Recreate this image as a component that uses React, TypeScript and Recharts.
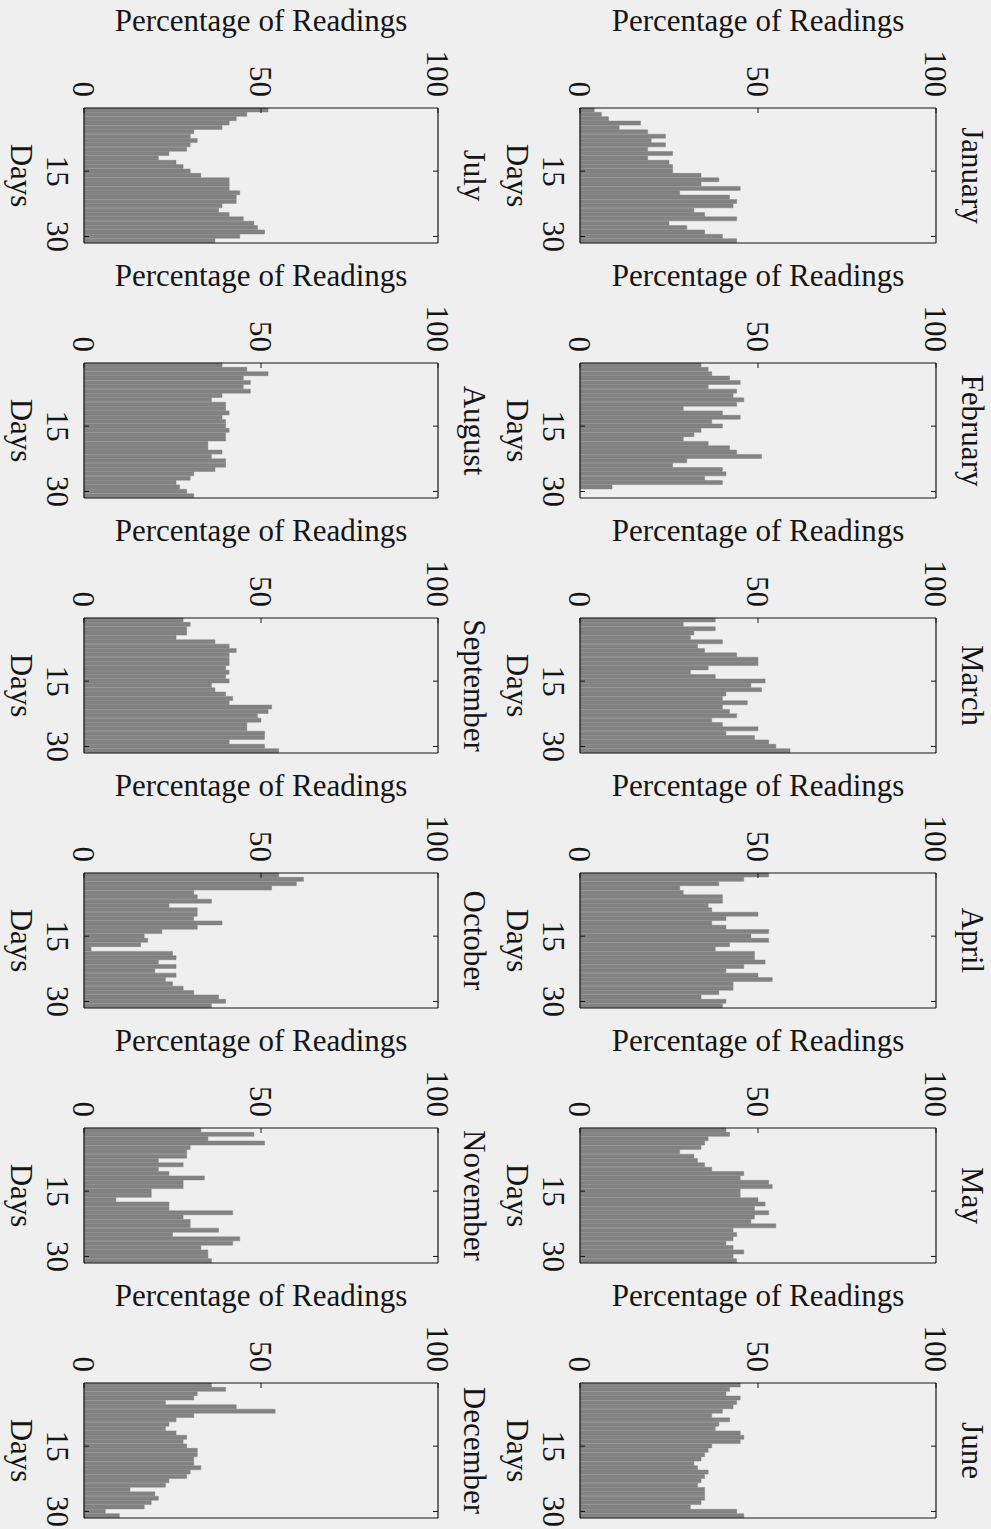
import React from "react";
import { BarChart, Bar, XAxis, YAxis } from "recharts";

const MONTHS = [
  "January", "February", "March", "April", "May", "June",
  "July", "August", "September", "October", "November", "December",
];

const DAYS = [
  1, 2, 3, 4, 5, 6, 7, 8, 9, 10, 11, 12, 13, 14, 15, 16,
  17, 18, 19, 20, 21, 22, 23, 24, 25, 26, 27, 28, 29, 30, 31,
];

const PCT_TICKS = [0, 50, 100];
const DAY_TICKS = [15, 30];

// percentage of readings per day
const january = [4, 6, 8, 17, 11, 19, 24, 20, 24, 19, 26, 19, 25, 26, 26, 34, 39, 34, 45, 28, 42, 44, 43, 32, 35, 44, 25, 30, 35, 40, 44];
const february = [34, 36, 37, 42, 45, 36, 44, 43, 46, 44, 29, 40, 45, 37, 40, 34, 32, 29, 36, 42, 44, 51, 30, 26, 40, 41, 35, 40, 9];
const march = [38, 29, 38, 32, 31, 40, 33, 35, 44, 50, 50, 36, 31, 38, 52, 48, 51, 41, 40, 47, 40, 42, 44, 37, 40, 50, 41, 49, 53, 55, 59];
const april = [53, 46, 39, 28, 29, 40, 40, 36, 37, 50, 41, 37, 41, 53, 48, 53, 42, 38, 49, 49, 52, 46, 41, 50, 54, 43, 43, 39, 34, 41, 40];
const may = [41, 42, 36, 35, 34, 28, 32, 33, 35, 37, 46, 45, 53, 54, 45, 45, 50, 52, 49, 53, 49, 48, 55, 43, 44, 43, 41, 43, 46, 43, 44];
const june = [45, 42, 41, 45, 44, 43, 40, 37, 42, 39, 38, 45, 46, 45, 37, 36, 35, 34, 32, 33, 36, 35, 34, 33, 35, 35, 35, 34, 31, 44, 46];
const july = [52, 46, 43, 41, 39, 31, 30, 32, 30, 29, 24, 21, 26, 28, 30, 33, 41, 41, 41, 44, 43, 43, 39, 38, 41, 45, 48, 49, 51, 44, 37];
const august = [39, 46, 52, 45, 47, 45, 47, 39, 36, 40, 40, 41, 39, 40, 40, 41, 40, 40, 35, 35, 39, 36, 40, 40, 37, 31, 30, 26, 27, 29, 31];
const september = [28, 30, 29, 29, 26, 37, 41, 43, 41, 41, 41, 40, 41, 40, 41, 36, 37, 40, 42, 41, 53, 52, 49, 50, 46, 46, 51, 51, 41, 51, 55];
const october = [55, 62, 60, 53, 31, 32, 36, 24, 32, 32, 31, 39, 32, 22, 17, 18, 16, 2, 25, 26, 21, 26, 20, 26, 23, 25, 28, 31, 38, 40, 36];
const november = [33, 48, 35, 51, 30, 29, 29, 21, 28, 21, 24, 34, 28, 28, 19, 19, 9, 24, 24, 42, 28, 30, 30, 38, 25, 44, 42, 33, 35, 35, 36];
const december = [36, 40, 32, 31, 23, 43, 54, 31, 26, 24, 23, 26, 29, 28, 29, 32, 32, 31, 31, 33, 30, 29, 24, 23, 13, 20, 21, 19, 17, 6, 10];

const SERIES = [
  january, february, march, april, may, june,
  july, august, september, october, november, december,
];

// panel geometry
const BOX_H = 135;
const ROW_STEP = 255;
const TOP0 = 108;
const COLS = [
  { left: 580, width: 356 },
  { left: 84, width: 354 },
];
const ML = 84;
const MT = 110;
const MR = 55;
const MB = 18;

const FONT = "'Liberation Serif', 'Times New Roman', serif";
const INK = "#151515";
const FS = 31;

const PctTick = ({ x, y, payload }: any) => (
  <g>
    <line x1={x} y1={y} x2={x} y2={y + 5} stroke={INK} strokeWidth={1} />
    <text
      x={x}
      y={y - 11}
      dy="0.34em"
      transform={`rotate(90 ${x} ${y - 11})`}
      textAnchor="end"
      fontFamily={FONT}
      fontSize={FS}
      fill={INK}
    >
      {payload.value}
    </text>
  </g>
);

const PctTickBottom = ({ x, y }: any) => (
  <line x1={x} y1={y} x2={x} y2={y - 5} stroke={INK} strokeWidth={1} />
);

const DayTick = ({ x, y, payload }: any) => (
  <g>
    <line x1={x} y1={y} x2={x + 5} y2={y} stroke={INK} strokeWidth={1} />
    <text
      x={x - 37}
      y={y}
      transform={`rotate(90 ${x - 37} ${y})`}
      textAnchor="middle"
      fontFamily={FONT}
      fontSize={FS}
      fill={INK}
    >
      {payload.value}
    </text>
  </g>
);

const DayTickRight = ({ x, y }: any) => (
  <line x1={x} y1={y} x2={x - 5} y2={y} stroke={INK} strokeWidth={1} />
);

const axisLine = { stroke: INK, strokeWidth: 1.2 };

const MonthPanel = ({ index }: { index: number }) => {
  const col = COLS[index < 6 ? 0 : 1];
  const row = index % 6;
  const values = SERIES[index];
  const rows = DAYS.map((d, i) => ({ day: d, value: i < values.length ? values[i] : null }));

  const w = ML + col.width + MR;
  const h = MT + BOX_H + MB;
  const boxTop = TOP0 + row * ROW_STEP;
  const midY = MT + BOX_H / 2;

  return (
    <div style={{ position: "absolute", left: col.left - ML, top: boxTop - MT, width: w, height: h }}>
      {/* axes are 1px thick, so the margins are trimmed by 1 to keep the box in place */}
      <BarChart
        width={w}
        height={h}
        data={rows}
        layout="vertical"
        margin={{ top: MT - 1, right: MR - 1, bottom: MB - 1, left: ML - 1 }}
        barCategoryGap={0}
        barGap={0}
      >
        <XAxis
          type="number"
          orientation="top"
          domain={[0, 100]}
          ticks={PCT_TICKS}
          height={1}
          tickSize={0}
          tickMargin={0}
          tickLine={false}
          axisLine={axisLine}
          tick={<PctTick />}
          interval={0}
        />
        <XAxis
          xAxisId="b"
          type="number"
          orientation="bottom"
          domain={[0, 100]}
          ticks={[50]}
          height={1}
          tickSize={0}
          tickMargin={0}
          tickLine={false}
          axisLine={axisLine}
          tick={<PctTickBottom />}
          interval={0}
        />
        <YAxis
          type="category"
          dataKey="day"
          width={1}
          ticks={DAY_TICKS}
          tickSize={0}
          tickMargin={0}
          tickLine={false}
          axisLine={axisLine}
          tick={<DayTick />}
          interval={0}
        />
        <YAxis
          yAxisId="r"
          type="category"
          dataKey="day"
          orientation="right"
          width={1}
          ticks={DAY_TICKS}
          tickSize={0}
          tickMargin={0}
          tickLine={false}
          axisLine={axisLine}
          tick={<DayTickRight />}
          interval={0}
        />
        <Bar
          dataKey="value"
          fill="#838383"
          stroke="#737373"
          strokeWidth={0.4}
          isAnimationActive={false}
        />
      </BarChart>
      <svg
        width={w}
        height={h}
        style={{ position: "absolute", left: 0, top: 0, pointerEvents: "none" }}
      >
        <text
          x={ML + col.width / 2}
          y={MT - 77}
          textAnchor="middle"
          fontFamily={FONT}
          fontSize={FS}
          fill={INK}
        >
          Percentage of Readings
        </text>
        <text
          x={ML - 73}
          y={midY}
          transform={`rotate(90 ${ML - 73} ${midY})`}
          textAnchor="middle"
          fontFamily={FONT}
          fontSize={FS}
          fill={INK}
        >
          Days
        </text>
        <text
          x={ML + col.width + 26}
          y={midY}
          transform={`rotate(90 ${ML + col.width + 26} ${midY})`}
          textAnchor="middle"
          fontFamily={FONT}
          fontSize={FS}
          fill={INK}
        >
          {MONTHS[index]}
        </text>
      </svg>
    </div>
  );
};

export default function App() {
  return (
    <div
      style={{
        position: "absolute",
        left: 0,
        top: 0,
        width: 991,
        height: 1529,
        background: "#efefef",
        overflow: "hidden",
      }}
    >
      {MONTHS.map((m, i) => (
        <MonthPanel key={m} index={i} />
      ))}
    </div>
  );
}
